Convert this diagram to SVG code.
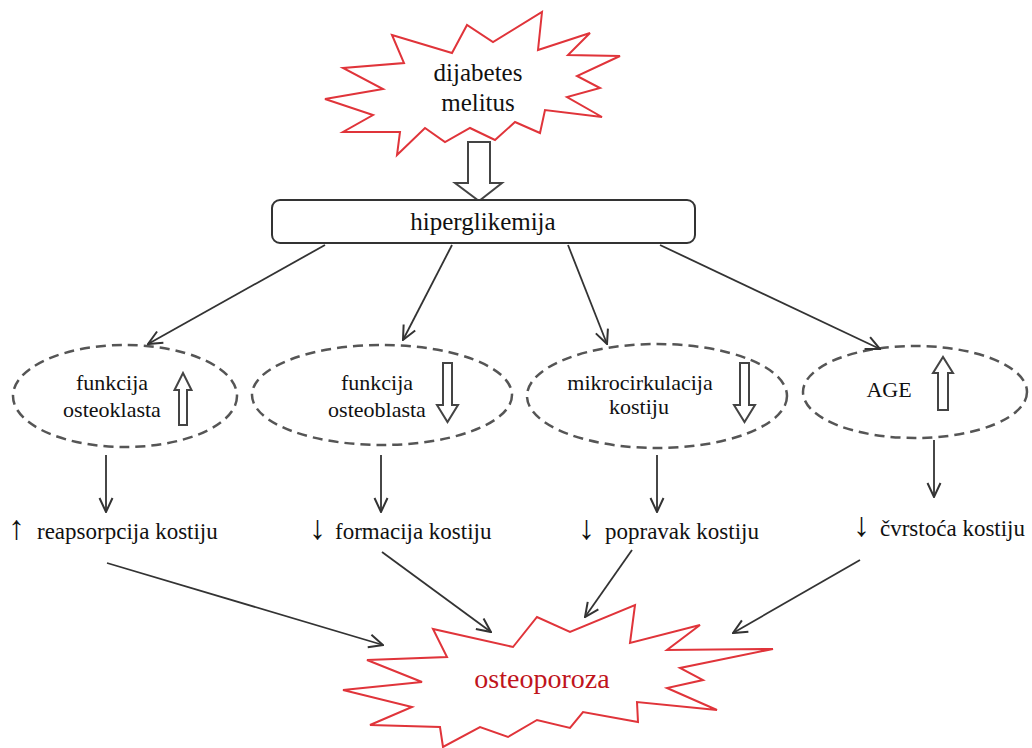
<svg xmlns="http://www.w3.org/2000/svg" width="1032" height="748" viewBox="0 0 1032 748">
<style>
.burst{fill:#fff;stroke:#e0343a;stroke-width:2;stroke-linejoin:miter;}
.ell{fill:none;stroke:#555;stroke-width:2.5;stroke-dasharray:10 6;}
.hol{fill:#fff;stroke:#444;stroke-width:2;}
.con{fill:none;stroke:#333;stroke-width:1.8;marker-end:url(#ah);}
.arr{font-size:34px;}
</style>
<defs>
<marker id="ah" viewBox="0 0 16 16" refX="15" refY="8" markerWidth="16" markerHeight="16" orient="auto" markerUnits="userSpaceOnUse">
<path d="M1,1.5 L15,8 L1,14.5" fill="none" stroke="#333" stroke-width="2"/>
</marker>
</defs>
<rect width="1032" height="748" fill="#fff"/>
<g font-family="Liberation Serif, serif" fill="#111">

<g id="dijabetes">
<polygon class="burst" points="392,35 452,53 467,25 493,42 542,12 538,50 590,33 568,55 620,56 577,76 600,88 567,97 602,117 545,110 540,133 515,122 495,140 470,128 445,142 425,128 397,155 400,132 343,132 373,115 325,99 383,89 343,68 404,63"/>
<text x="478" y="81" font-size="25" text-anchor="middle">dijabetes</text>
<text x="478" y="111" font-size="25" text-anchor="middle">melitus</text>
</g>

<g id="arrow-big">
<path class="hol" d="M468,142 H490 V183 H502 L479,201 L455,183 H468 Z"/>
</g>

<g id="hiperglikemija">
<rect x="272" y="200" width="423" height="43" rx="8" fill="#fff" stroke="#333" stroke-width="2"/>
<text x="483" y="230" font-size="25" text-anchor="middle">hiperglikemija</text>
</g>

<g id="osteoklasta">
<ellipse class="ell" cx="125" cy="396" rx="112" ry="51"/>
<text x="112" y="390" font-size="22" text-anchor="middle">funkcija</text>
<text x="112" y="417" font-size="22" text-anchor="middle">osteoklasta</text>
<path class="hol" d="M179,425 V390 H174.5 L183,373 L191.5,390 H187 V425 Z"/>
</g>

<g id="osteoblasta">
<ellipse class="ell" cx="382" cy="395" rx="130" ry="50"/>
<text x="377" y="390" font-size="22" text-anchor="middle">funkcija</text>
<text x="377" y="417" font-size="22" text-anchor="middle">osteoblasta</text>
<path class="hol" d="M443,363 H452 V405 H458 L447.5,422 L437,405 H443 Z"/>
</g>

<g id="mikrocirkulacija">
<ellipse class="ell" cx="657" cy="396" rx="130" ry="52"/>
<text x="640" y="390" font-size="22" text-anchor="middle">mikrocirkulacija</text>
<text x="639" y="414" font-size="22" text-anchor="middle">kostiju</text>
<path class="hol" d="M740,363 H749 V405 H755 L744.5,422 L734,405 H740 Z"/>
</g>

<g id="age">
<ellipse class="ell" cx="915" cy="392" rx="112" ry="46"/>
<text x="889" y="397" font-size="22" text-anchor="middle">AGE</text>
<path class="hol" d="M938,410 V373 H933 L943,357 L953,373 H948 V410 Z"/>
</g>

<g id="labels" font-size="23">
<text y="539"><tspan class="arr" x="8">↑</tspan><tspan x="37">reapsorpcija kostiju</tspan></text>
<text y="539"><tspan class="arr" x="309">↓</tspan><tspan x="335">formacija kostiju</tspan></text>
<text y="539"><tspan class="arr" x="578">↓</tspan><tspan x="605">popravak kostiju</tspan></text>
<text y="536"><tspan class="arr" x="853">↓</tspan><tspan x="880">čvrstoća kostiju</tspan></text>
</g>

<g id="osteoporoza">
<polygon class="burst" points="367,660 447,657 433,629 513,647 537,617 570,632 635,605 630,643 700,625 667,650 773,649 680,668 703,680 667,688 717,710 637,702 638,722 583,712 570,728 537,720 508,737 480,727 443,747 440,727 370,725 412,707 343,690 422,682"/>
<text x="542" y="688" font-size="28" text-anchor="middle" fill="#c0141c">osteoporoza</text>
</g>
</g>

<g id="connectors">
<line class="con" x1="325" y1="245" x2="148" y2="344"/>
<line class="con" x1="452" y1="245" x2="403" y2="340"/>
<line class="con" x1="568" y1="245" x2="607" y2="344"/>
<line class="con" x1="660" y1="245" x2="880" y2="349"/>
<line class="con" x1="106" y1="455" x2="106" y2="512"/>
<line class="con" x1="381" y1="455" x2="381" y2="512"/>
<line class="con" x1="657" y1="455" x2="657" y2="512"/>
<line class="con" x1="934" y1="440" x2="934" y2="497"/>
<line class="con" x1="107" y1="563" x2="383" y2="645"/>
<line class="con" x1="382" y1="552" x2="491" y2="632"/>
<line class="con" x1="632" y1="550" x2="585" y2="617"/>
<line class="con" x1="860" y1="560" x2="733" y2="633"/>
</g>
</svg>
